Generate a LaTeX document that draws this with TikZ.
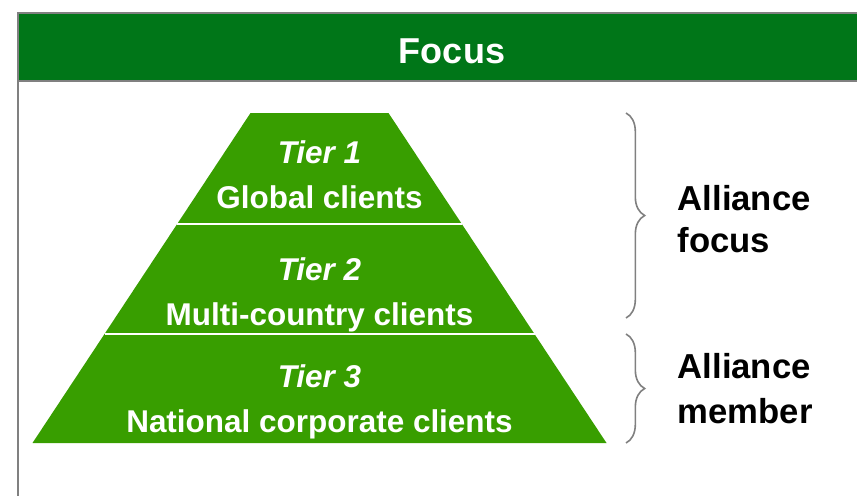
\documentclass[tikz,border=0pt]{standalone}
\usepackage{fontspec}
\setmainfont{Liberation Sans}
\usetikzlibrary{decorations.pathreplacing}
\definecolor{hgreen}{RGB}{0,118,24}
\definecolor{pgreen}{RGB}{56,158,0}
\definecolor{fgray}{RGB}{128,128,128}
\tikzset{tier/.style = {anchor=base, text=white, font=\fontsize{23.6}{28}\selectfont\bfseries\itshape},
         level/.style = {anchor=base, text=white, font=\fontsize{23.6}{28}\selectfont\bfseries},
         side/.style = {anchor=base west, font=\fontsize{26}{30}\selectfont\bfseries},
         bracket/.style = {draw=fgray, line width=1.2pt,
                           decorate, decoration={brace, amplitude=14pt}}}

\begin{document}
\begin{tikzpicture}[x=0.75pt, y=-0.75pt]
      \useasboundingbox (0, 0) rectangle (857, 496);
      \clip (0, 0) rectangle (857, 496);

      \fill [hgreen] (17.5, 12.5) rectangle (900, 81);
      \draw [fgray, line width=1.5pt] (17.5, 540) -- (17.5, 12.5) -- (900, 12.5);
      \draw [fgray, line width=1.5pt] (17.5, 81) -- (900, 81);
      \node [anchor=base, text=white, font=\fontsize{27}{32}\selectfont\bfseries] (focus) at (452, 63) {Focus};

      \fill [pgreen] (250.5, 113) -- (388.5, 113) -- (606.5, 443) -- (32.5, 443) -- cycle;
      \draw [white, line width=1.5pt] (177.2, 224) -- (461.8, 224);
      \draw [white, line width=1.5pt] (104.5, 334) -- (534.5, 334);

      \node [tier] (t1) at (319.5, 163) {Tier 1};
      \node [level] (l1) at (319.5, 208) {Global clients};
      \node [tier] (t2) at (319.5, 280) {Tier 2};
      \node [level] (l2) at (319.5, 325) {Multi-country clients};
      \node [tier] (t3) at (319.5, 387) {Tier 3};
      \node [level] (l3) at (319.5, 432) {National corporate clients};

      \draw [bracket] (626, 113) -- (626, 318);
      \draw [bracket] (626, 334) -- (626, 443);

      \node [side] (af1) at (673, 210) {Alliance};
      \node [side] (af2) at (673, 252) {focus};
      \node [side] (am1) at (673, 378) {Alliance};
      \node [side] (am2) at (673, 423) {member};
    \end{tikzpicture}
\end{document}
